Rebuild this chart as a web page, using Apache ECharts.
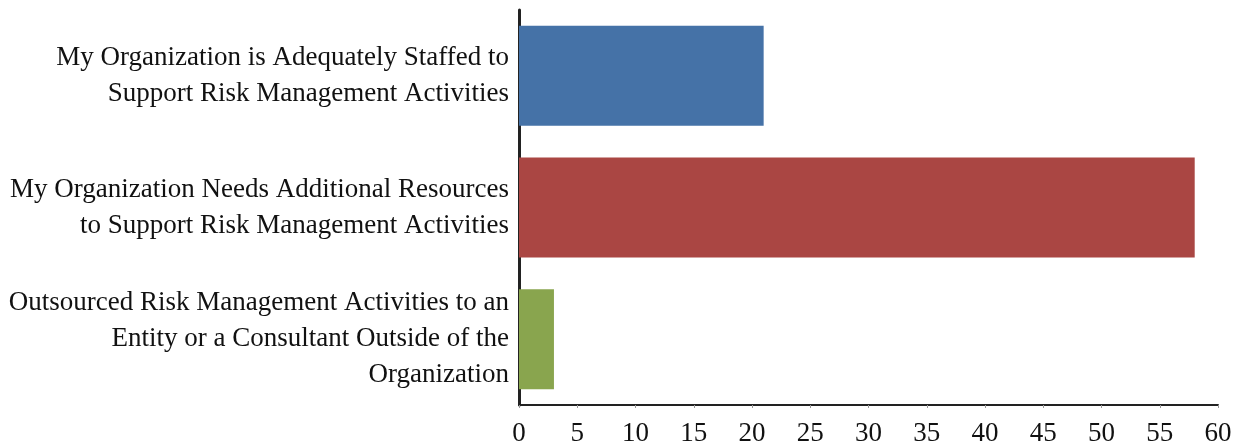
<!DOCTYPE html>
<html>
<head>
<meta charset="utf-8">
<script src="https://cdn.jsdelivr.net/npm/echarts@6/dist/echarts.min.js"></script>
<style>html,body{margin:0;padding:0;background:#fff;}#c{width:1242px;height:448px;}</style>
</head>
<body>
<div id="c"></div>
<script>
const categories = [
  "My Organization is Adequately Staffed to\nSupport Risk Management Activities",
  "My Organization Needs Additional Resources\nto Support Risk Management Activities",
  "Outsourced Risk Management Activities to an\nEntity or a Consultant Outside of the\nOrganization"
];
const values = [21, 58, 3];
const barColors = ["#4572A7", "#AA4643", "#89A54E"];

const chart = echarts.init(document.getElementById('c'));
chart.setOption({
  animation: false,
  grid: { left: 519, right: 24, top: 10, bottom: 43, containLabel: false },
  xAxis: {
    type: 'value', min: 0, max: 60, interval: 5,
    splitLine: { show: false },
    axisLine: { show: true, lineStyle: { color: '#222', width: 2 } },
    axisTick: { show: true, length: 3, lineStyle: { color: '#999' } },
    axisLabel: { color: '#111', fontFamily: 'Liberation Serif', fontSize: 27, margin: 15 }
  },
  yAxis: {
    type: 'category', data: categories, inverse: true,
    axisLine: { show: true, lineStyle: { color: '#222', width: 3 } },
    axisTick: { show: false },
    axisLabel: { color: '#111', fontFamily: 'Liberation Serif', fontSize: 27, lineHeight: 36, margin: 10, align: 'right', padding: [7, 0, 0, 0] }
  },
  series: [{
    type: 'bar',
    data: values.map((v, i) => ({ value: v, itemStyle: { color: barColors[i] } })),
    barCategoryGap: '24%'
  }]
});
</script>
</body>
</html>
